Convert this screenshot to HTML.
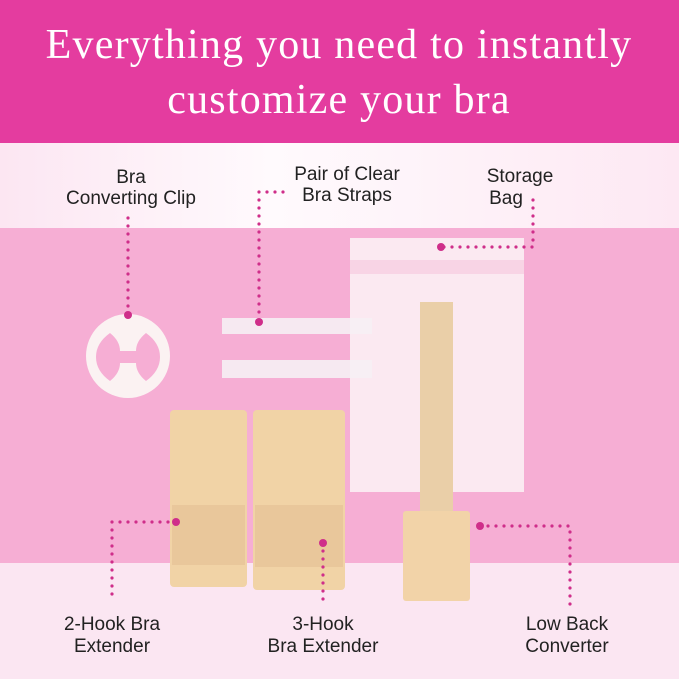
<!DOCTYPE html>
<html><head><style>
body{margin:0;width:679px;height:679px;overflow:hidden;font-family:"Liberation Sans",sans-serif}
</style></head><body>
<svg width="679" height="679" xmlns="http://www.w3.org/2000/svg">
<defs>
<linearGradient id="band" x1="0" x2="1"><stop offset="0" stop-color="#fce6f2"/><stop offset="0.4" stop-color="#fffafd"/><stop offset="1" stop-color="#fde8f3"/></linearGradient>
</defs>
<rect width="679" height="679" fill="#f6aed4"/>
<rect width="679" height="143" fill="#e43c9f"/>
<rect y="143" width="679" height="85" fill="url(#band)"/>
<rect y="563" width="679" height="116" fill="#fbe6f2"/>
<g font-family="Liberation Serif,serif" font-size="42" fill="#fff" text-anchor="middle" letter-spacing="1.2">
<text x="339" y="58">Everything you need to instantly</text>
<text x="339" y="113">customize your bra</text>
</g>
<g font-size="19" fill="#222" text-anchor="middle">
<text x="131" y="183">Bra</text><text x="131" y="204">Converting Clip</text>
<text x="347" y="180">Pair of Clear</text><text x="347" y="201">Bra Straps</text>
<text x="520" y="182">Storage</text><text x="506" y="204">Bag</text>
<text x="112" y="630">2-Hook Bra</text><text x="112" y="652">Extender</text>
<text x="323" y="630">3-Hook</text><text x="323" y="652">Bra Extender</text>
<text x="567" y="630">Low Back</text><text x="567" y="652">Converter</text>
</g>
<!-- objects -->
<circle cx="128" cy="356" r="42" fill="#fbf2f2"/>
<path d="M110 333 q10 8 10 18 h16 q0-10 10-18 q14 10 14 24 q0 14-14 24 q-10-8-10-18 h-16 q0 10-10 18 q-14-10-14-24 q0-14 14-24z" fill="#f6aed4"/>
<rect x="350" y="238" width="174" height="254" fill="#fbe9f1"/>
<rect x="350" y="260" width="174" height="14" fill="#f8d4e5"/>
<rect x="222" y="318" width="150" height="16" fill="#f6f0f4" opacity="0.9"/>
<rect x="222" y="360" width="150" height="18" fill="#f6f0f4" opacity="0.9"/>
<rect x="420" y="302" width="33" height="212" fill="#eacfa8"/>
<rect x="403" y="511" width="67" height="90" rx="3" fill="#f2d3a8"/>
<rect x="170" y="410" width="77" height="177" rx="4" fill="#f1d3a6"/>
<rect x="172" y="505" width="73" height="60" fill="#e9c79b"/>
<rect x="253" y="410" width="92" height="180" rx="4" fill="#f1d3a6"/>
<rect x="255" y="505" width="88" height="62" fill="#e9c79b"/>
<!-- connectors -->
<g stroke="#cf2e8a" stroke-width="3.2" stroke-linecap="round" stroke-dasharray="0 8" fill="none">
<path d="M128 218 V315"/>
<path d="M283 192 H259 V322"/>
<path d="M533 200 V247 H441"/>
<path d="M176 522 H112 V600"/>
<path d="M323 543 V600"/>
<path d="M480 526 H570 V606"/>
</g>
<g fill="#cf2e8a">
<circle cx="128" cy="315" r="4"/><circle cx="259" cy="322" r="4"/><circle cx="441" cy="247" r="4"/>
<circle cx="176" cy="522" r="4"/><circle cx="323" cy="543" r="4"/><circle cx="480" cy="526" r="4"/>
</g>
</svg>
</body></html>
